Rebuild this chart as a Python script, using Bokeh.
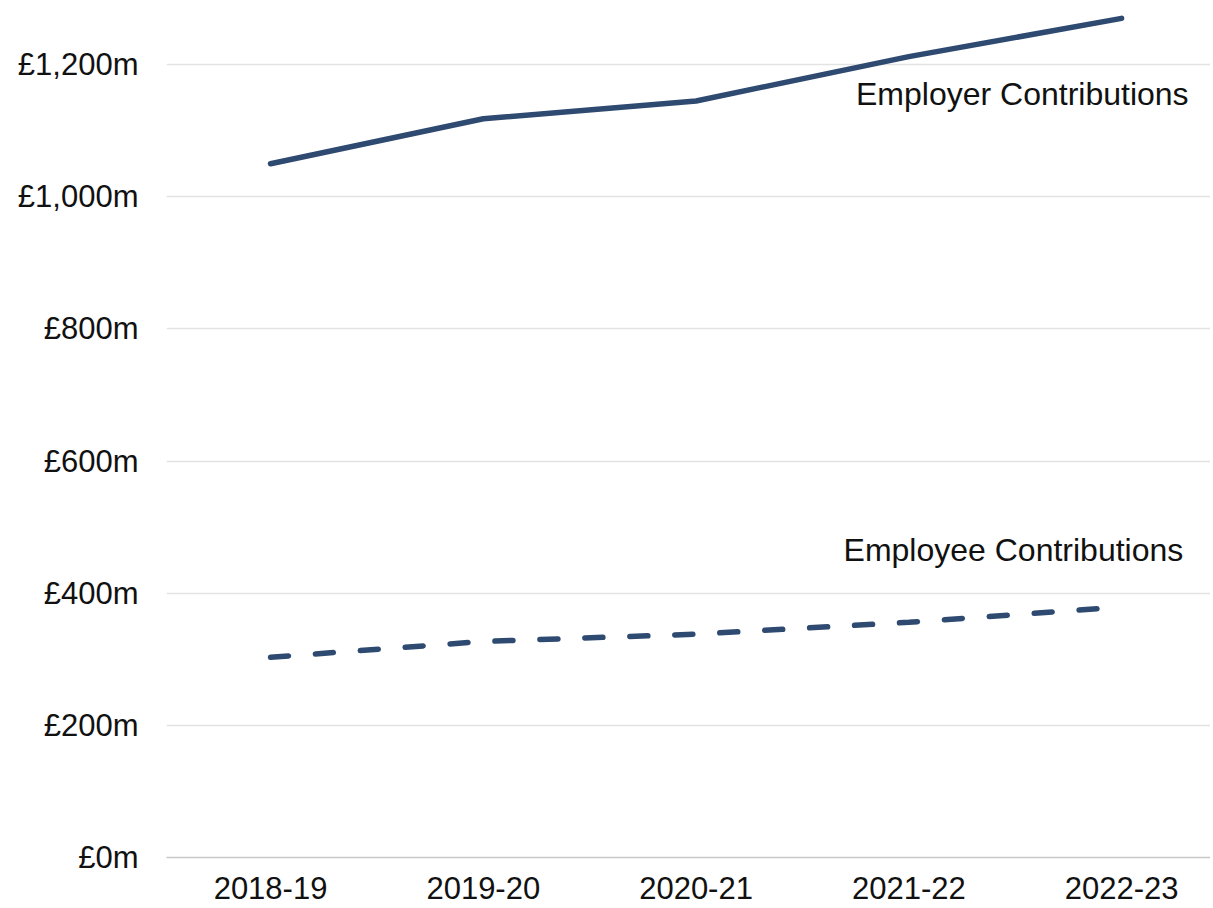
from bokeh.plotting import figure
from bokeh.models import Range1d, FixedTicker, Label, CustomJSTickFormatter
from bokeh.embed import file_html
from bokeh.resources import INLINE

years = ["2018-19", "2019-20", "2020-21", "2021-22", "2022-23"]
employer = [1050, 1118, 1145, 1212, 1270]
employee = [303, 327, 338, 356, 379]
y_ticks = [0, 200, 400, 600, 800, 1000, 1200]

FONT = "Liberation Sans"
NAVY = "#2E4A70"
xs = list(range(len(years)))

p = figure(width=1210, height=908, output_backend="svg", toolbar_location=None,
           x_range=Range1d(-0.489, 4.418), y_range=Range1d(0, 1297),
           min_border_left=166, min_border_right=0, min_border_top=0, min_border_bottom=51)
p.outline_line_color = None
p.background_fill_color = "white"
p.border_fill_color = "white"

p.line(xs, employer, line_color=NAVY, line_width=5.5, line_cap="round")
p.line(xs, employee, line_color=NAVY, line_width=5.5, line_cap="round", line_dash="18 27")

# axes
p.xaxis.ticker = FixedTicker(ticks=xs)
p.xaxis.major_label_overrides = {i: y for i, y in enumerate(years)}
p.yaxis.ticker = FixedTicker(ticks=y_ticks)
p.yaxis.formatter = CustomJSTickFormatter(code="return '£' + tick.toLocaleString('en-GB') + 'm';")

for ax in (p.xaxis[0], p.yaxis[0]):
    ax.major_label_text_font = FONT
    ax.major_label_text_font_size = "31px"
    ax.major_label_text_color = "#111111"
    ax.major_tick_line_color = None
    ax.minor_tick_line_color = None
p.yaxis.axis_line_color = None
p.yaxis.major_label_standoff = 22
p.xaxis.axis_line_color = "#c8c8c8"
p.xaxis.axis_line_width = 1.5
p.xaxis.major_label_standoff = 13

p.xgrid.grid_line_color = None
p.ygrid.ticker = FixedTicker(ticks=y_ticks[1:])
p.ygrid.grid_line_color = "#e3e3e3"
p.ygrid.grid_line_width = 1.5

p.add_layout(Label(x=4.315, y=1156, text="Employer Contributions", text_align="right",
                   text_baseline="middle", text_font=FONT, text_font_size="32px",
                   text_color="#111111"))
p.add_layout(Label(x=4.29, y=465, text="Employee Contributions", text_align="right",
                   text_baseline="middle", text_font=FONT, text_font_size="32px",
                   text_color="#111111"))

open("out.html", "w").write(file_html(p, INLINE))
